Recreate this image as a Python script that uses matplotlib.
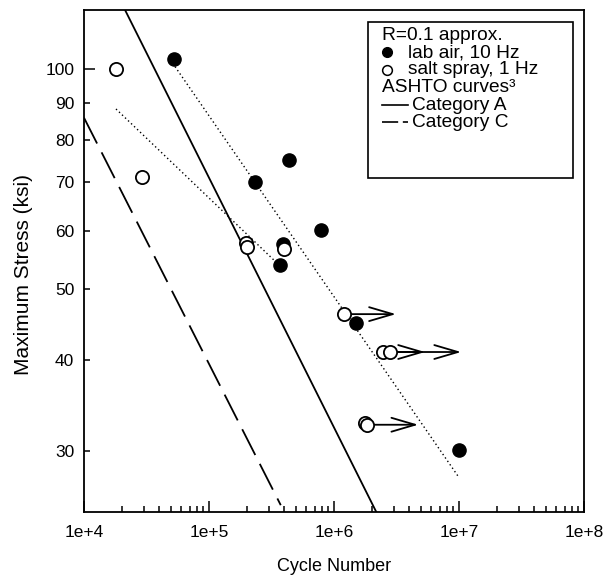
import numpy as np
import matplotlib
matplotlib.use("Agg")
import matplotlib.pyplot as plt
from matplotlib.patches import Rectangle
from matplotlib.ticker import FixedLocator, FuncFormatter, NullFormatter

plt.rcParams['font.family'] = ['Liberation Sans', 'DejaVu Sans']

# lab air, 10 Hz (filled)
air_cycles = [52800, 232000, 434000, 791000, 369800, 391000, 1.50e6, 1.0e7]
air_stress = [103.3, 70.0, 75.1, 60.2, 53.9, 57.6, 44.9, 30.1]

# salt spray, 1 Hz (open)
spray_cycles = [18130, 28950, 197700, 202500, 398000, 1.196e6, 2.453e6, 2.82e6, 1.78e6, 1.83e6]
spray_stress = [100.0, 71.2, 57.9, 57.1, 56.8, 46.2, 41.0, 41.0, 32.8, 32.6]

# run-outs (arrows)
runout_start = [1.196e6, 2.453e6, 2.82e6, 1.83e6]
runout_end = [3.13e6, 5.35e6, 1.04e7, 4.72e6]
runout_stress = [46.2, 41.0, 41.0, 32.6]

# dotted trend lines
air_fit_cycles = [53500, 1.0e7]
air_fit_stress = [100.8, 27.6]
spray_fit_cycles = [18030, 337300]
spray_fit_stress = [88.2, 54.6]

# ASHTO curves
cat_a_cycles = [21300, 2.17e6]
cat_a_stress = [120.5, 24.8]
cat_c_cycles = [1.0e4, 3.75e5]
cat_c_stress = [85.8, 25.3]

y_ticks = [30, 40, 50, 60, 70, 80, 90]

fig = plt.figure(figsize=(6.05, 5.8), dpi=100)
ax = fig.add_axes([84/605, 68.5/580, 500/605, 501.5/580])
ax.set_xscale('log')
ax.set_yscale('log')
ax.set_xlim(1e4, 1e8)
ax.set_ylim(24.8, 120.5)

ax.plot(cat_a_cycles, cat_a_stress, color='black', lw=1.3, zorder=2)
ax.plot(cat_c_cycles, cat_c_stress, color='black', lw=1.3, dashes=(16, 5.5), zorder=2)
ax.plot(air_fit_cycles, air_fit_stress, color='black', lw=1.0, dashes=(1, 2), zorder=2)
ax.plot(spray_fit_cycles, spray_fit_stress, color='black', lw=1.0, dashes=(1, 2), zorder=2)

for s0, s1, s in zip(runout_start, runout_end, runout_stress):
    ax.annotate('', xy=(s1, s), xytext=(s0, s),
                arrowprops=dict(arrowstyle='->,head_length=0.85,head_width=0.25',
                                lw=1.3, color='black', shrinkA=0, shrinkB=0,
                                mutation_scale=20), zorder=3)

ax.plot(air_cycles, air_stress, 'o', color='black', ms=9.5, zorder=5)
ax.plot(spray_cycles, spray_stress, 'o', mfc='white', mec='black', mew=1.3, ms=9.5, zorder=5)

# ticks
ax.xaxis.set_major_locator(FixedLocator([1e4, 1e5, 1e6, 1e7, 1e8]))
ax.xaxis.set_major_formatter(FuncFormatter(lambda v, p: "1e+%d" % round(np.log10(v))))
ax.xaxis.set_minor_formatter(NullFormatter())
ax.yaxis.set_major_locator(FixedLocator([100]))
ax.yaxis.set_minor_locator(FixedLocator(y_ticks))
ax.yaxis.set_major_formatter(FuncFormatter(lambda v, p: "%d" % round(v)))
ax.yaxis.set_minor_formatter(FuncFormatter(lambda v, p: "%d" % round(v)))
ax.tick_params(which='both', direction='in', width=1.1, labelsize=12.5)
ax.tick_params(which='major', length=8)
ax.tick_params(which='minor', length=4)
ax.tick_params(axis='x', which='both', pad=10)
ax.tick_params(axis='y', which='both', pad=7)
for sp in ax.spines.values():
    sp.set_linewidth(1.3)

ax.set_xlabel('Cycle Number', fontsize=13)
ax.set_ylabel('Maximum Stress (ksi)', fontsize=15)
ax.xaxis.set_label_coords(0.5, -0.092)
ax.yaxis.set_label_coords(-0.102, 0.473)

# legend box drawn by hand
fx = lambda px: (px - 84) / 500
fy = lambda py: 1 - (py - 10) / 501.5
T = ax.transAxes
ax.add_patch(Rectangle((fx(368.3), fy(178.3)), fx(573.3) - fx(368.3), fy(22.3) - fy(178.3),
                       transform=T, fill=True, fc='white', ec='black', lw=1.2, zorder=6))
fs = 13.8
ax.text(fx(381.7), fy(39.5), 'R=0.1 approx.', transform=T, fontsize=fs, va='baseline', zorder=7)
ax.plot([fx(387)], [fy(52)], 'o', color='black', ms=7, transform=T, zorder=7, clip_on=False)
ax.text(fx(408), fy(57), 'lab air, 10 Hz', transform=T, fontsize=fs, va='baseline', zorder=7)
ax.plot([fx(387)], [fy(69.5)], 'o', mfc='white', mec='black', mew=1.1, ms=7, transform=T, zorder=7, clip_on=False)
ax.text(fx(408), fy(74.5), 'salt spray, 1 Hz', transform=T, fontsize=fs, va='baseline', zorder=7)
ax.text(fx(381.7), fy(92), 'ASHTO curves\u00b3', transform=T, fontsize=fs, va='baseline', zorder=7)
ax.plot([fx(381.7), fx(408)], [fy(104.5)] * 2, color='black', lw=1.2, transform=T, zorder=7)
ax.text(fx(411.5), fy(109.5), 'Category A', transform=T, fontsize=fs, va='baseline', zorder=7)
ax.plot([fx(381.7), fx(408.3)], [fy(122)] * 2, color='black', lw=1.2, dashes=(9.7, 2.8), transform=T, zorder=7)
ax.text(fx(411.5), fy(127), 'Category C', transform=T, fontsize=fs, va='baseline', zorder=7)

fig.savefig('out.png', dpi=100)
